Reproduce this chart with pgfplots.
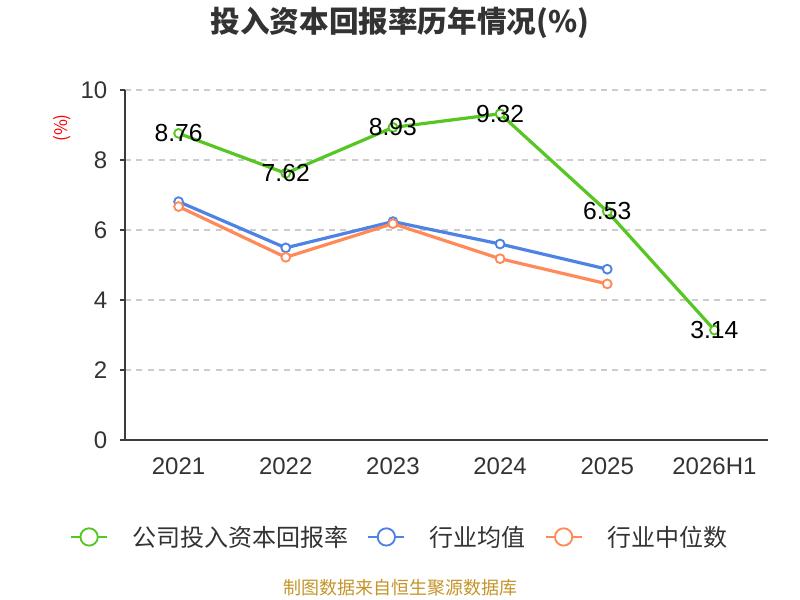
\documentclass[border=0pt]{standalone}
\usepackage{pgfplots}
\pgfplotsset{compat=1.18}
\usepackage{fontspec}
\setmainfont{Liberation Sans}
\newfontfamily\cjk{Noto Sans CJK SC}
\definecolor{cgreen}{RGB}{86,198,34}
\definecolor{cblue}{RGB}{78,130,228}
\definecolor{corange}{RGB}{255,138,88}
\definecolor{cgold}{RGB}{196,148,40}
\definecolor{ctext}{RGB}{51,51,51}
\definecolor{caxis}{RGB}{60,60,60}
\definecolor{cgrid}{RGB}{204,204,204}
\begin{document}
\begin{tikzpicture}
\useasboundingbox (0,0) rectangle (600pt,450pt);
\begin{axis}[
  at={(93.75pt,120pt)}, anchor=south west,
  scale only axis, width=482.25pt, height=262.5pt,
  xmin=-0.5, xmax=5.5, ymin=0, ymax=10,
  axis x line*=bottom, axis y line*=left,
  axis line style={caxis, line width=1.5pt},
  tick align=outside,
  xtick={0,1,2,3,4,5},
  xticklabels={2021,2022,2023,2024,2025,2026H1},
  x tick style={draw=none},
  minor xtick={-0.5,0.5,1.5,2.5,3.5,4.5,5.5},
  minor x tick style={caxis, line width=1.5pt},
  minor tick length=5.25pt,
  ytick={0,2,4,6,8,10},
  y tick style={caxis, line width=1.5pt},
  major tick length=3.75pt,
  ymajorgrids,
  major grid style={cgrid, line width=1pt, dash pattern=on 4.5pt off 4pt},
  /pgf/number format/assume math mode=true,
  tick label style={font=\fontsize{18}{21}\selectfont, text=ctext},
  xticklabel style={yshift=-6pt},
  yticklabel style={xshift=-6pt},
  legend style={draw=none, fill=none, at={(0.4277,-0.277)}, anchor=center,
    font=\cjk\fontsize{18}{22}\selectfont, text=ctext,
    /tikz/every even column/.append style={column sep=12pt},
    legend cell align=left},
  legend columns=3,
  legend image code/.code={
    \draw[#1, line width=1.5pt, mark=none] (0pt,0pt) -- (27pt,0pt);
    \draw[#1, line width=1.5pt, mark size=6.5pt, only marks] plot coordinates {(13.5pt,0pt)};
    \path (43pt,0pt);
  },
  every axis plot/.append style={line width=2.4pt, mark=*, mark size=3.3pt},
]
\addplot[cgreen, mark options={draw=cgreen, fill=white, line width=1.4pt},
  nodes near coords, point meta=explicit,
  nodes near coords style={anchor=center, text=black, font=\fontsize{18.5}{21}\selectfont,
    /pgf/number format/.cd, fixed, precision=2, fixed zerofill, assume math mode=true}]
  coordinates {(0,8.76)[8.76] (1,7.62)[7.62] (2,8.93)[8.93] (3,9.32)[9.32] (4,6.53)[6.53] (5,3.14)[3.14]};
\addlegendentry{公司投入资本回报率}
\addplot[cblue, mark options={draw=cblue, fill=white, line width=1.4pt}]
  coordinates {(0,6.81) (1,5.49) (2,6.24) (3,5.60) (4,4.88)};
\addlegendentry{行业均值}
\addplot[corange, mark options={draw=corange, fill=white, line width=1.4pt}]
  coordinates {(0,6.67) (1,5.22) (2,6.18) (3,5.18) (4,4.46)};
\addlegendentry{行业中位数}
\end{axis}
\node[text=ctext] at (300pt,433pt) {\cjk\bfseries\fontsize{22.2}{26}\selectfont 投入资本回报率历年情况(\%)};
\node[rotate=90, text=red, font=\cjk\fontsize{13}{15}\selectfont] at (46.5pt,354pt) {(\%)};
\node[text=cgold, font=\cjk\fontsize{13.5}{16}\selectfont] at (300pt,9pt) {制图数据来自恒生聚源数据库};
\end{tikzpicture}
\end{document}
